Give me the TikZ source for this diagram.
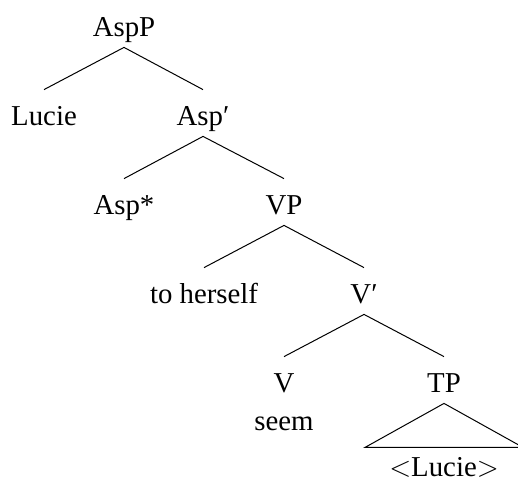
\documentclass[tikz,border=0pt]{standalone}
\usepackage{fontspec}
\setmainfont{Liberation Serif}
\begin{document}
\begin{tikzpicture}[
    x=0.5pt, y=-0.5pt,
    cat/.style={inner sep=0pt,anchor=base,text height=17.5pt,text depth=5.5pt,font=\fontsize{14.4}{17}\selectfont},
    branch/.style={line width=0.5pt}
]
\useasboundingbox (0,0) rectangle (518,483);

\node[cat] (AspP)    at (124,36)  {AspP};
\node[cat] (Lucie)   at (44,125)  {Lucie};
\node[cat] (AspBar)  at (203,125) {Asp′};
\node[cat] (AspStar) at (124,214) {Asp*};
\node[cat] (VP)      at (284,214) {VP};
\node[cat] (Refl)    at (204,303) {to herself};
\node[cat] (VBar)    at (364,303) {V′};
\node[cat] (V)       at (284,392) {V};
\node[cat] (Seem)    at (284,430) {seem};
\node[cat] (TP)      at (444,392) {TP};
\node[cat] (Trace)   at (444,476) {$<$Lucie$>$};

\draw[branch] (AspP.south) -- (Lucie.north);
\draw[branch] (AspP.south) -- (AspBar.north);
\draw[branch] (AspBar.south) -- (AspStar.north);
\draw[branch] (AspBar.south) -- (VP.north);
\draw[branch] (VP.south) -- (Refl.north);
\draw[branch] (VP.south) -- (VBar.north);
\draw[branch] (VBar.south) -- (V.north);
\draw[branch] (VBar.south) -- (TP.north);
\draw[branch] (TP.south) -- ++(-79,44) -- ++(158,0) -- cycle;
\end{tikzpicture}
\end{document}
